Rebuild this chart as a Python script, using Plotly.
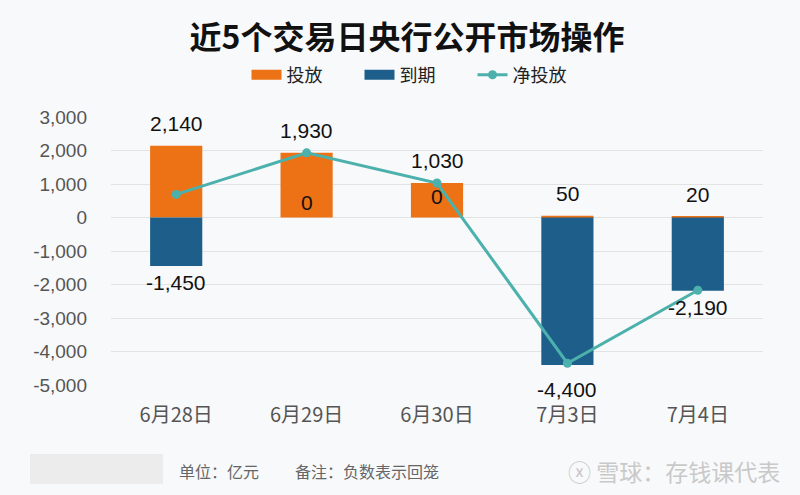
import plotly.graph_objects as go

categories = ["6月28日", "6月29日", "6月30日", "7月3日", "7月4日"]
injection = [2140, 1930, 1030, 50, 20]
maturity = [-1450, 0, 0, -4400, -2190]
net_injection = [690, 1930, 1030, -4350, -2170]
y_ticks = [3000, 2000, 1000, 0, -1000, -2000, -3000, -4000, -5000]

ORANGE = "#ED7215"
BLUE = "#1D5E8A"
TEAL = "#4CB1AC"
NUM_FONT = "Liberation Sans, Arial, sans-serif"
CJK_FONT = "Noto Sans CJK SC, sans-serif"

W, H = 800, 495
ML, MR, MT, MB = 111, 37, 117, 110
PW, PH = W - ML - MR, H - MT - MB


def px_x(px):
    return (px - ML) / PW


def px_y(py):
    return (H - MB - py) / PH


fig = go.Figure()
fig.add_trace(go.Bar(x=categories, y=injection, name="投放", marker=dict(color=ORANGE, line=dict(width=0)),
                     width=0.4, showlegend=False))
fig.add_trace(go.Bar(x=categories, y=maturity, name="到期", marker=dict(color=BLUE, line=dict(width=0)),
                     width=0.4, showlegend=False))
fig.add_trace(go.Scatter(x=categories, y=net_injection, name="净投放", mode="lines+markers",
                         line=dict(color=TEAL, width=3), marker=dict(color=TEAL, size=9), showlegend=False))
# legend proxies (wide rectangles like the reference)
fig.add_trace(go.Scatter(x=[None], y=[None], mode="lines", name="投放", line=dict(color=ORANGE, width=10)))
fig.add_trace(go.Scatter(x=[None], y=[None], mode="lines", name="到期", line=dict(color=BLUE, width=10)))
fig.add_trace(go.Scatter(x=[None], y=[None], mode="lines+markers", name="净投放",
                         line=dict(color=TEAL, width=3), marker=dict(color=TEAL, size=9)))


def fmt(v):
    return f"{v:,}"


LABEL_FONT = dict(family=NUM_FONT, size=21, color="#111111")
below_shift = [-3, 0, 0, -11, -3]
zero_shift = [4, 2, 8, 4, 4]

annotations = []
for c, v in zip(categories, injection):
    annotations.append(dict(x=c, y=v, text=fmt(v), showarrow=False, yanchor="bottom", yshift=9, font=LABEL_FONT))
for i, (c, v) in enumerate(zip(categories, maturity)):
    if v == 0:
        annotations.append(dict(x=c, y=0, text=fmt(v), showarrow=False, yanchor="bottom", yshift=zero_shift[i],
                                font=LABEL_FONT))
    else:
        annotations.append(dict(x=c, y=v, text=fmt(v), showarrow=False, yanchor="top", yshift=below_shift[i],
                                font=LABEL_FONT))

# footer
FOOT_Y = px_y(471)
annotations.append(dict(xref="paper", yref="paper", x=px_x(177), y=FOOT_Y, text="单位：亿元", showarrow=False,
                        xanchor="left", yanchor="middle", font=dict(family=CJK_FONT, size=16, color="#666666")))
annotations.append(dict(xref="paper", yref="paper", x=px_x(293), y=FOOT_Y, text="备注：负数表示回笼",
                        showarrow=False, xanchor="left", yanchor="middle",
                        font=dict(family=CJK_FONT, size=16, color="#666666")))
annotations.append(dict(xref="paper", yref="paper", x=px_x(782), y=FOOT_Y, text="ⓧ 雪球：存钱课代表",
                        showarrow=False, xanchor="right", yanchor="middle",
                        font=dict(family=CJK_FONT, size=23, color="#c9c9c9")))

fig.update_layout(
    width=W, height=H,
    paper_bgcolor="#f8f9fb", plot_bgcolor="#f8f9fb",
    margin=dict(l=ML, r=MR, t=MT, b=MB),
    barmode="relative",
    title=dict(text="<b>近5个交易日央行公开市场操作</b>", x=407 / W, xanchor="center", y=1 - 38 / H,
               yanchor="middle", yref="container", font=dict(family=CJK_FONT, size=32, color="#111111")),
    legend=dict(orientation="h", xref="container", yref="container", x=416 / W, xanchor="center",
                y=1 - 75 / H, yanchor="middle", font=dict(family=CJK_FONT, size=18, color="#222222"),
                bgcolor="rgba(0,0,0,0)", itemwidth=30, entrywidth=68, traceorder="normal"),
    xaxis=dict(showgrid=False, showline=False, zeroline=False, ticks="", ticklabelstandoff=16,
               tickfont=dict(family=CJK_FONT, size=20, color="#555555")),
    yaxis=dict(range=[-5000, 3000], tickvals=y_ticks, ticktext=[fmt(v) for v in y_ticks],
               showgrid=True, gridcolor="#e3e3e3", gridwidth=1,
               zeroline=False, showline=False, ticks="", ticklabelstandoff=23,
               tickfont=dict(family=NUM_FONT, size=19, color="#555555")),
    annotations=annotations,
    shapes=[dict(type="rect", xref="paper", yref="paper", x0=px_x(30), x1=px_x(163),
                 y0=px_y(484), y1=px_y(454),
                 fillcolor="#ececec", line=dict(width=0), layer="below")],
)

fig.write_html("out.html", config={"displayModeBar": False},
               post_script="document.body.style.margin='0';document.body.style.background='#f8f9fb';")
